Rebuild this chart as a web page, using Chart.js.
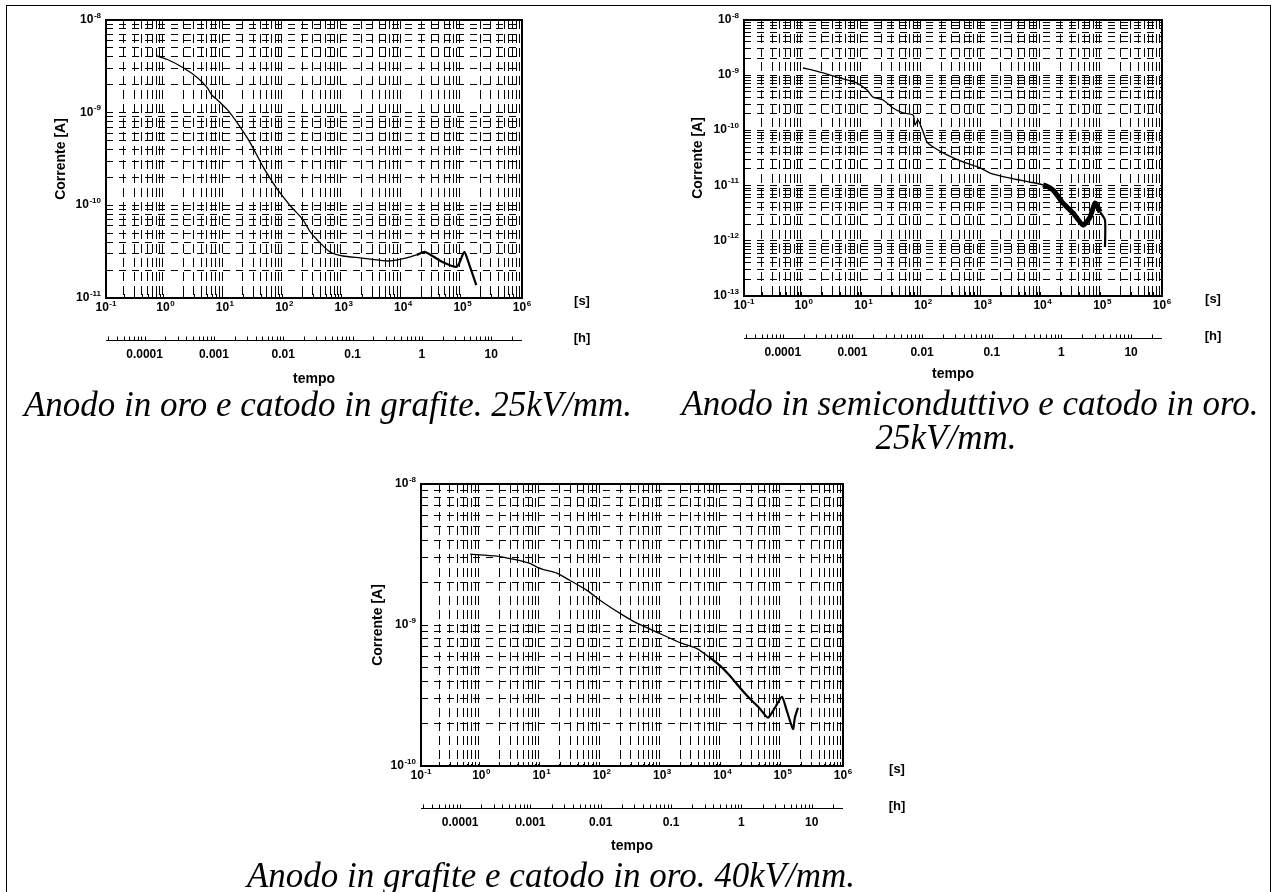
<!DOCTYPE html>
<html>
<head>
<meta charset="utf-8">
<script src="https://cdn.jsdelivr.net/npm/chart.js@4.4.1/dist/chart.umd.min.js"></script>
<style>
html, body { margin: 0; padding: 0; background: #fff; }
#page { position: relative; width: 1275px; height: 892px; overflow: hidden; background: #fff; }
#frame { position: absolute; left: 6px; top: 5px; width: 1265px; height: 920px; border: 1px solid #000; box-sizing: border-box; }
.plot { position: absolute; }
.cap { position: absolute; font-family: "Liberation Serif", "Times New Roman", serif; font-style: italic;
       font-size: 35px; line-height: 36px; color: #000; white-space: nowrap; transform: translateX(-50%); }
</style>
</head>
<body>
<div id="page">
  <div id="frame"></div>
  <div class="plot" style="left:0px;top:0px;width:640px;height:395px"><canvas id="c1" width="640" height="395"></canvas></div>
  <div class="plot" style="left:638px;top:0px;width:637px;height:395px"><canvas id="c2" width="637" height="395"></canvas></div>
  <div class="plot" style="left:318px;top:465px;width:640px;height:395px"><canvas id="c3" width="640" height="395"></canvas></div>
  <div class="cap" style="left:328px;top:387px">Anodo in oro e catodo in grafite. 25kV/mm.</div>
  <div class="cap" style="left:970px;top:386px">Anodo in semiconduttivo e catodo in oro.</div>
  <div class="cap" style="left:946px;top:420px">25kV/mm.</div>
  <div class="cap" style="left:551px;top:858px">Anodo in grafite e catodo in oro. 40kV/mm.</div>
</div>
<script>
// Gold anode, graphite cathode, 25 kV/mm: time [s] and current [A]
const t1 = [0.71, 1.13, 2.03, 3.5, 5.1, 6.0, 7.5, 11.1, 16.3, 26.9, 44, 65, 85, 126, 207, 272, 400, 588, 970,
            1870, 3600, 5940, 11450, 16800, 22900, 31200, 45900, 78700, 88300, 107000, 130000, 170000];
const i1 = [4.09e-9, 3.7e-9, 3.03e-9, 2.37e-9, 1.85e-9, 1.55e-9, 1.37e-9, 1.07e-9, 7.7e-10, 4.7e-10, 2.6e-10,
            1.74e-10, 1.36e-10, 9.9e-11, 6.97e-11, 5.2e-11, 3.93e-11, 3.14e-11, 2.84e-11, 2.71e-11, 2.58e-11,
            2.51e-11, 2.71e-11, 2.92e-11, 3.14e-11, 2.84e-11, 2.45e-11, 2.16e-11, 2.39e-11, 3.14e-11, 2.28e-11, 1.38e-11];

// Semiconductive anode, gold cathode, 25 kV/mm
const t2 = [0.97, 1.87, 4.06, 7.8, 11.5, 14.5, 21.3, 31.3, 46, 68, 73, 82, 100, 116, 147, 251, 466, 897, 1320,
            2860, 6180, 10200, 15000, 22000, 32400, 47700, 62500, 75700, 91900, 111000, 111000];
const i2 = [1.35e-9, 1.14e-9, 8.9e-10, 7.2e-10, 5.4e-10, 4.0e-10, 3.55e-10, 2.55e-10, 2.07e-10, 1.9e-10, 1.25e-10,
            1.54e-10, 9.4e-11, 6.2e-11, 5.0e-11, 3.6e-11, 2.68e-11, 2.09e-11, 1.69e-11, 1.37e-11, 1.16e-11,
            1.03e-11, 8.3e-12, 4.8e-12, 3.19e-12, 1.93e-12, 2.7e-12, 4.84e-12, 3.33e-12, 2.38e-12, 7.7e-13];

// Graphite anode, gold cathode, 40 kV/mm
const t3 = [0.65, 1.82, 3.35, 6.4, 8.4, 10.5, 18, 29.6, 56.6, 104, 200, 382, 918, 1970, 3770, 6200, 9100,
            13300, 19500, 28600, 41900, 56900, 74300, 97000, 117000, 148000, 159000, 179000];
const i3 = [3.18e-9, 3.08e-9, 2.93e-9, 2.74e-9, 2.57e-9, 2.48e-9, 2.33e-9, 2.07e-9, 1.76e-9, 1.45e-9, 1.21e-9,
            1.03e-9, 8.7e-10, 7.5e-10, 6.8e-10, 5.87e-10, 5.15e-10, 4.37e-10, 3.59e-10, 3.0e-10, 2.55e-10,
            2.2e-10, 2.59e-10, 3.1e-10, 2.46e-10, 1.83e-10, 2.2e-10, 2.59e-10];

// Axis ranges and labels
const secExp = [-1, 6];                     // seconds axis: 10^-1 .. 10^6
const hourRange = [0.1 / 3600, 1e5 / 3600]; // hours axis
const hourLabels = ['0.0001', '0.001', '0.01', '0.1', '1', '10'];
const yExp1 = [-11, -8], yExp2 = [-13, -8], yExp3 = [-10, -8];

const FONT = '"Liberation Sans", Arial, sans-serif';

function decomp(v) {
  const n = Math.floor(Math.log10(v) + 1e-9);
  const k = Math.round(v / Math.pow(10, n));
  return {n, k};
}
function logTicks(lo, hi, from, to) {
  const out = [];
  for (let n = lo; n <= hi; n++) {
    for (let k = 1; k <= 9; k++) {
      const v = parseFloat(k + 'e' + n);
      if (v >= from * 0.9999 && v <= to * 1.0001) out.push({value: v});
    }
  }
  return out;
}

// "10" with a raised exponent
function drawPow(ctx, x, y, n, align) {
  ctx.font = 'bold 12px ' + FONT;
  const wBase = ctx.measureText('10').width;
  ctx.font = 'bold 8px ' + FONT;
  const e = String(n);
  const wExp = ctx.measureText(e).width;
  const total = wBase + 0.5 + wExp;
  const x0 = align === 'right' ? x - total : x - total / 2;
  ctx.textAlign = 'left';
  ctx.textBaseline = 'alphabetic';
  ctx.font = 'bold 12px ' + FONT;
  ctx.fillText('10', x0, y);
  ctx.font = 'bold 8px ' + FONT;
  ctx.fillText(e, x0 + wBase + 0.5, y - 5.5);
}

// Plot frame, power-of-ten labels, inward minor ticks, hours axis line and unit labels
const framePlugin = {
  id: 'frame',
  afterDraw(chart, args, opts) {
    const {ctx, chartArea: a} = chart;
    const xs = chart.scales.x, hs = chart.scales.h, ys = chart.scales.y;
    ctx.save();
    ctx.strokeStyle = '#000';
    ctx.fillStyle = '#000';
    ctx.lineWidth = 1;
    ctx.beginPath();
    xs.ticks.forEach(t => {
      if (decomp(t.value).k === 1) return;
      const px = Math.round(xs.getPixelForValue(t.value)) + 0.5;
      ctx.moveTo(px, a.bottom); ctx.lineTo(px, a.bottom - 4);
    });
    ctx.stroke();
    ctx.lineWidth = 2;
    ctx.strokeRect(Math.round(a.left), Math.round(a.top), Math.round(a.right - a.left), Math.round(a.bottom - a.top));

    xs.ticks.forEach(t => {
      const d = decomp(t.value);
      if (d.k === 1) drawPow(ctx, xs.getPixelForValue(t.value), a.bottom + 13, d.n, 'center');
    });
    ys.ticks.forEach(t => {
      const d = decomp(t.value);
      if (d.k === 1) drawPow(ctx, a.left - 5, ys.getPixelForValue(t.value) + 3, d.n, 'right');
    });

    const y0 = Math.round(hs.top) + 0.5;
    ctx.lineWidth = 1;
    ctx.beginPath();
    ctx.moveTo(hs.left, y0); ctx.lineTo(hs.right, y0);
    hs.ticks.forEach(t => {
      const px = Math.round(hs.getPixelForValue(t.value)) + 0.5;
      ctx.moveTo(px, y0); ctx.lineTo(px, y0 - 4);
    });
    ctx.stroke();
    ctx.font = 'bold 13px ' + FONT;
    ctx.textAlign = 'center';
    ctx.textBaseline = 'middle';
    ctx.fillText('[s]', a.right + opts.unitDx, a.bottom + 3);
    ctx.fillText('[h]', a.right + opts.unitDx, y0 - 2);
    ctx.restore();
  }
};

function build(id, L, t, cur, yExp, widthFn) {
  const yMin = Math.pow(10, yExp[0]), yMax = Math.pow(10, yExp[1]);
  const tickFont = {family: FONT, size: 12, weight: 'bold'};
  const titleFont = {family: FONT, size: 14, weight: 'bold'};
  new Chart(document.getElementById(id), {
    type: 'line',
    data: {
      datasets: [{
        data: t.map((v, j) => ({x: v, y: cur[j]})),
        xAxisID: 'x', yAxisID: 'y',
        borderColor: '#000', borderWidth: 1.3, pointRadius: 0, tension: 0.2, fill: false,
        segment: {borderWidth: ctx => widthFn(ctx.p0.parsed.x, ctx.p1.parsed.x)}
      }]
    },
    options: {
      responsive: false, animation: false, events: [],
      layout: {padding: {left: 0, top: L.top, right: L.right, bottom: 0}},
      plugins: {legend: {display: false}, tooltip: {enabled: false}, frame: {unitDx: L.unitDx}},
      scales: {
        x: {
          type: 'logarithmic', position: 'bottom', weight: 0,
          min: Math.pow(10, secExp[0]), max: Math.pow(10, secExp[1]),
          afterBuildTicks: s => { s.ticks = logTicks(secExp[0], secExp[1], s.min, s.max); },
          afterFit: s => { s.height = L.xH; },
          ticks: {display: false, autoSkip: false, maxRotation: 0, minRotation: 0},
          grid: {drawTicks: false, lineWidth: 1,
                 color: c => (c.tick && decomp(c.tick.value).k === 1) ? 'rgba(0,0,0,0)' : '#000'},
          border: {display: false, dash: [9, 5]}
        },
        h: {
          type: 'logarithmic', position: 'bottom', weight: 1,
          min: hourRange[0], max: hourRange[1],
          afterBuildTicks: s => { s.ticks = logTicks(-5, 1, s.min, s.max); },
          afterFit: s => { s.height = L.hH; },
          ticks: {autoSkip: false, maxRotation: 0, minRotation: 0, padding: 7, color: '#000', font: tickFont,
                  callback: v => { const d = decomp(v); return d.k === 1 ? hourLabels[d.n + 4] : ''; }},
          grid: {display: false, drawTicks: false},
          border: {display: false},
          title: {display: true, text: 'tempo', color: '#000', font: titleFont, padding: {top: 0, bottom: L.tempoPad}}
        },
        y: {
          type: 'logarithmic', position: 'left', min: yMin, max: yMax,
          afterBuildTicks: s => { s.ticks = logTicks(yExp[0], yExp[1], yMin, yMax); },
          afterFit: s => { s.width = L.yW; },
          ticks: {display: false, autoSkip: false},
          grid: {drawTicks: false, lineWidth: 1, color: '#000'},
          border: {display: false, dash: [7, 6]},
          title: {display: true, text: 'Corrente [A]', color: '#000', font: titleFont, padding: {top: L.yTitlePad, bottom: 0}}
        }
      }
    },
    plugins: [framePlugin]
  });
}

build('c1', {top: 20, right: 118, yW: 106, xH: 42, hH: 55, tempoPad: 7, yTitlePad: 53, unitDx: 60},
      t1, i1, yExp1, (a) => a >= 1.5e4 ? 2.2 : undefined);
build('c2', {top: 20, right: 113, yW: 106, xH: 42, hH: 57, tempoPad: 12, yTitlePad: 52, unitDx: 51},
      t2, i2, yExp2, (a, b) => (a >= 1.0e4 && b <= 1.05e5) ? 5 : (a >= 1.0e4 ? 2.2 : undefined));
build('c3', {top: 19, right: 115, yW: 103, xH: 42, hH: 52, tempoPad: 5, yTitlePad: 52, unitDx: 54},
      t3, i3, yExp3, (a) => a >= 4000 ? 2.2 : undefined);
</script>
</body>
</html>
